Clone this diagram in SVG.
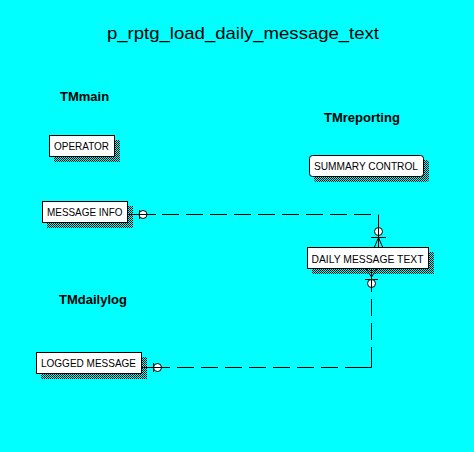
<svg xmlns="http://www.w3.org/2000/svg" width="474" height="452" viewBox="0 0 474 452">
  <defs>
    <pattern id="dither" x="0" y="0" width="2" height="2" patternUnits="userSpaceOnUse">
      <rect x="0" y="0" width="1" height="1" fill="#000"/>
      <rect x="1" y="1" width="1" height="1" fill="#000"/>
    </pattern>
    <style>
      .shadow { fill: url(#dither); stroke: none; }
      .box { fill: #fff; stroke: #000; stroke-width: 1; }
      .etext { font-family: "Liberation Sans", Arial, sans-serif; font-size: 11.8px; fill: #000; }
      .area { font-family: "Liberation Sans", Arial, sans-serif; font-size: 13px; font-weight: bold; fill: #000; }
      .title { font-family: "Liberation Sans", Arial, sans-serif; font-size: 17px; fill: #000; }
      .ln { stroke: #000; stroke-width: 1; fill: none; }
      .dot { fill: #fff; stroke: #000; stroke-width: 1; }
    </style>
  </defs>
  <rect x="0" y="0" width="474" height="452" fill="#00FFFF"/>

  <text class="title" x="107" y="39" textLength="272" lengthAdjust="spacingAndGlyphs">p_rptg_load_daily_message_text</text>

  <g id="areas">
    <text class="area" x="60" y="101">TMmain</text>
    <text class="area" x="324" y="122">TMreporting</text>
    <text class="area" x="59" y="304">TMdailylog</text>
  </g>

  <g id="connectors">
    <!-- MESSAGE INFO to DAILY MESSAGE TEXT -->
    <g id="rel-message-info">
      <path class="ln" d="M127.5 214.5 H156"/>
      <path class="ln" d="M162 214.5 H372" stroke-dasharray="17 7"/>
      <path class="ln" d="M378.5 214.5 V248"/>
      <path class="ln" d="M139.5 210 V219"/>
      <circle class="dot" cx="143" cy="214.5" r="4"/>
      <path class="ln" d="M139 214.5 H147"/>
      <circle class="dot" cx="378.5" cy="231.5" r="4"/>
      <path class="ln" d="M378.5 227.5 V236"/>
      <path class="ln" d="M371 237.5 H386"/>
      <path class="ln" d="M378.5 237.5 L374 248 M378.5 237.5 L383 248"/>
    </g>
    <!-- DAILY MESSAGE TEXT to LOGGED MESSAGE -->
    <g id="rel-logged-message">
      <path class="ln" d="M371.5 277 L366 269 M371.5 277 L377 269"/>
      <path class="ln" d="M365 279.5 H378"/>
      <path class="ln" d="M371.5 269 V292"/>
      <circle class="dot" cx="371.5" cy="283.5" r="4"/>
      <path class="ln" d="M371.5 279.5 V288"/>
      <path class="ln" d="M371.5 299 V316 M371.5 323 V340"/>
      <path class="ln" d="M371.5 347 V367.5 H345"/>
      <path class="ln" d="M338 367.5 H176" stroke-dasharray="17 7"/>
      <path class="ln" d="M142 367.5 H170"/>
      <path class="ln" d="M153.5 363 V372"/>
      <circle class="dot" cx="157.5" cy="367.5" r="4"/>
      <path class="ln" d="M153.5 367.5 H161.5"/>
    </g>
  </g>

  <g id="operator">
    <rect class="shadow" x="54" y="140" width="66" height="22"/>
    <rect class="box" x="49.5" y="135.5" width="65" height="21"/>
    <text class="etext" x="54" y="150" textLength="55" lengthAdjust="spacingAndGlyphs">OPERATOR</text>
  </g>

  <g id="message-info">
    <rect class="shadow" x="47" y="206" width="86" height="22"/>
    <rect class="box" x="42.5" y="201.5" width="85" height="21"/>
    <text class="etext" x="47" y="216" textLength="75.5" lengthAdjust="spacingAndGlyphs">MESSAGE INFO</text>
  </g>

  <g id="summary-control">
    <rect class="shadow" x="314" y="160" width="115" height="22" rx="3"/>
    <rect class="box" x="309.5" y="155.5" width="114" height="21" rx="3"/>
    <text class="etext" x="314" y="170" textLength="104" lengthAdjust="spacingAndGlyphs">SUMMARY CONTROL</text>
  </g>

  <g id="daily-message-text">
    <rect class="shadow" x="312" y="252" width="122" height="22"/>
    <rect class="box" x="307.5" y="247.5" width="121" height="21"/>
    <text class="etext" x="311.5" y="262.5" textLength="112" lengthAdjust="spacingAndGlyphs">DAILY MESSAGE TEXT</text>
  </g>

  <g id="logged-message">
    <rect class="shadow" x="41" y="357" width="106" height="22"/>
    <rect class="box" x="36.5" y="352.5" width="105" height="21"/>
    <text class="etext" x="41" y="367" textLength="95" lengthAdjust="spacingAndGlyphs">LOGGED MESSAGE</text>
  </g>
</svg>
